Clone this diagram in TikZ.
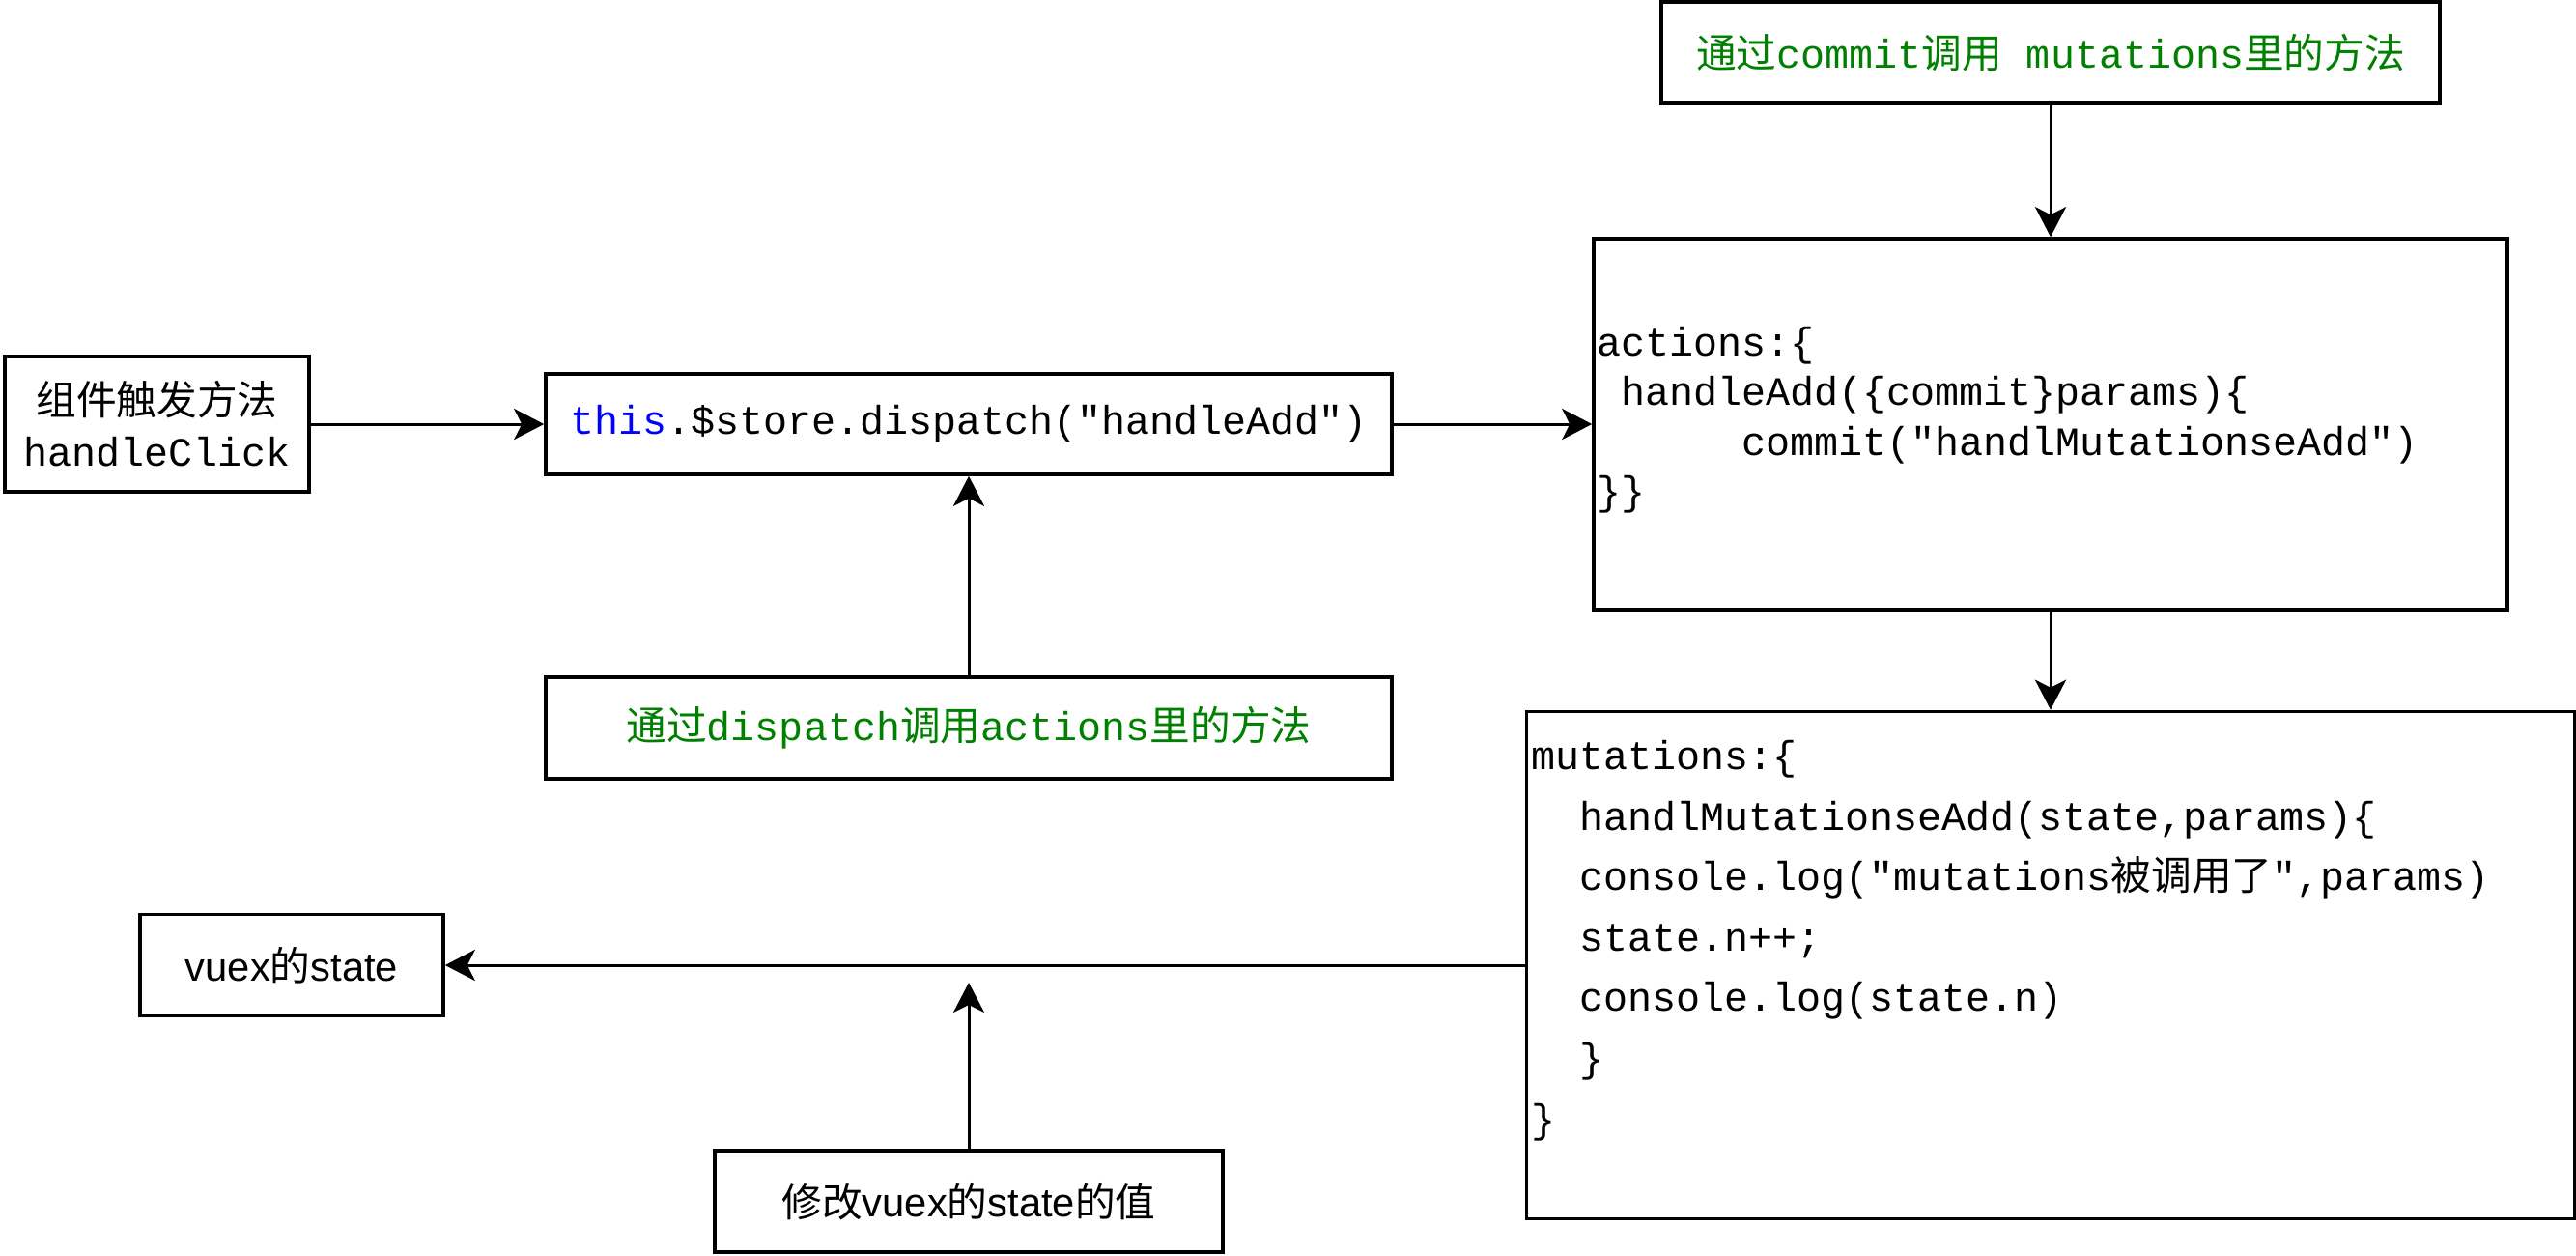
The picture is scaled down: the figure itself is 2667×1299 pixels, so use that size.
\documentclass[tikz,border=0pt]{standalone}
\usepackage{fontspec}
\setmainfont{Liberation Sans}
\setmonofont{Liberation Mono}
\newfontfamily\cjk{Noto Sans CJK SC}
\usetikzlibrary{arrows.meta}
\definecolor{lblgreen}{RGB}{0,128,0}
\definecolor{thisblue}{RGB}{0,0,255}
\begin{document}
\begin{tikzpicture}[x=1pt,y=-1pt,
  box/.style={draw=black, line width=3.6pt, fill=white, inner sep=0pt, font=\fontsize{41.7pt}{50pt}\selectfont},
  conn/.style={line width=3pt, -{Stealth[length=31pt,width=32pt,inset=8pt]}},
  code/.style={inner sep=0pt, align=left, anchor=north west}]
\useasboundingbox (0,0) rectangle (2667,1299);
\fill[white] (0,0) rectangle (2667,1299);

\node[box, minimum width=315pt, minimum height=140pt, align=center, font=\fontsize{41.7pt}{53pt}\selectfont] (A) at (162.5,439) {{\cjk 组件触发方法}\\\ttfamily handleClick};
\node[box, minimum width=876pt, minimum height=104pt, font=\fontsize{41.7pt}{50pt}\selectfont\ttfamily] (B) at (1003,439) {\textcolor{thisblue}{this}.\$store.dispatch("handleAdd")};
\node[box, minimum width=946pt, minimum height=384pt] (C) at (2123,439) {};
\node[code, font=\fontsize{41.7pt}{51.5pt}\selectfont\ttfamily] (Ctxt) at (1653,338) {actions:\{\\\phantom{x}handleAdd(\{commit\}params)\{\\\phantom{xxxxxx}commit("handlMutationseAdd")\\\}\}};
\node[box, minimum width=806pt, minimum height=105pt, text=lblgreen] (D) at (2123,54.5) {{\cjk 通过}\texttt{commit}{\cjk 调用}\texttt{ mutations}{\cjk 里的方法}};
\node[box, minimum width=876pt, minimum height=105pt, text=lblgreen] (E) at (1003,753.5) {{\cjk 通过}\texttt{dispatch}{\cjk 调用}\texttt{actions}{\cjk 里的方法}};
\node[box, minimum width=1085pt, minimum height=525pt] (F) at (2123,999) {};
\node[code, font=\fontsize{41.7pt}{62.6pt}\selectfont\ttfamily] (Ftxt) at (1585,766) {mutations:\{\\
\phantom{xx}handlMutationseAdd(state,params)\{\\
\phantom{xx}console.log("mutations{\cjk 被调用了}",params)\\
\phantom{xx}state.n++;\\
\phantom{xx}console.log(state.n)\\
\phantom{xx}\}\\
\}};
\node[box, minimum width=314pt, minimum height=105pt] (G) at (302,999) {vuex{\cjk 的}state};
\node[box, minimum width=526pt, minimum height=105pt] (H) at (1003,1243.5) {{\cjk 修改}vuex{\cjk 的}state{\cjk 的值}};
\coordinate (Hend) at (1003,1017);

\draw[conn] (A) -- (B);
\draw[conn] (B) -- (C);
\draw[conn] (D) -- (C);
\draw[conn] (E) -- (B);
\draw[conn] (C) -- (F);
\draw[conn] (F) -- (G);
\draw[conn] (H) -- (Hend);
\end{tikzpicture}
\end{document}
